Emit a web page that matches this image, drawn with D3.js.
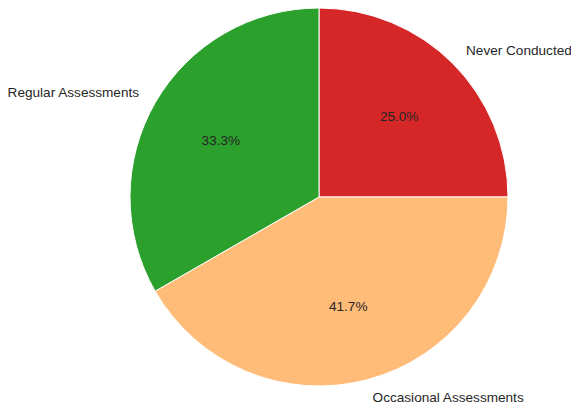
<!DOCTYPE html>
<html>
<head>
<meta charset="utf-8">
<script src="https://cdn.jsdelivr.net/npm/d3@7"></script>
<style>
  html, body { margin: 0; padding: 0; background: #fff; }
  svg { display: block; }
  text { font-family: "Liberation Sans", Arial, sans-serif; fill: #262626; }
</style>
</head>
<body>
<svg id="chart" width="571" height="405"></svg>
<script>
// Assessment frequency shares
const categories = ["Never Conducted", "Occasional Assessments", "Regular Assessments"];
const values = [25.0, 41.7, 33.3];
const colors = ["#d62728", "#ffbb78", "#2ca02c"];

const width = 571, height = 405;
const cx = 319, cy = 197, radius = 189;

const svg = d3.select("#chart");
const g = svg.append("g").attr("transform", `translate(${cx},${cy})`);

// Slices run clockwise from 12 o'clock in data order
const pie = d3.pie().sort(null).value(d => d).startAngle(0).endAngle(2 * Math.PI);
const arcs = pie(values);

const arc = d3.arc().innerRadius(0).outerRadius(radius);

g.selectAll("path.slice")
  .data(arcs)
  .join("path")
  .attr("class", "slice")
  .attr("d", arc)
  .attr("fill", (d, i) => colors[i])
  .attr("stroke", "#fff")
  .attr("stroke-width", 1);

const mid = d => (d.startAngle + d.endAngle) / 2;
const fontSize = 13.6;

// Category labels outside the pie
const labelR = radius * 1.1;
g.selectAll("text.cat")
  .data(arcs)
  .join("text")
  .attr("class", "cat")
  .attr("x", d => labelR * Math.sin(mid(d)))
  .attr("y", d => -labelR * Math.cos(mid(d)))
  .attr("text-anchor", d => Math.sin(mid(d)) >= 0 ? "start" : "end")
  .attr("dominant-baseline", "central")
  .attr("font-size", fontSize)
  .text((d, i) => categories[i]);

// Percentage labels inside the wedges
const pctR = radius * 0.6;
g.selectAll("text.pct")
  .data(arcs)
  .join("text")
  .attr("class", "pct")
  .attr("x", d => pctR * Math.sin(mid(d)))
  .attr("y", d => -pctR * Math.cos(mid(d)))
  .attr("text-anchor", "middle")
  .attr("dominant-baseline", "central")
  .attr("font-size", fontSize)
  .text(d => d.data.toFixed(1) + "%");
</script>
</body>
</html>
